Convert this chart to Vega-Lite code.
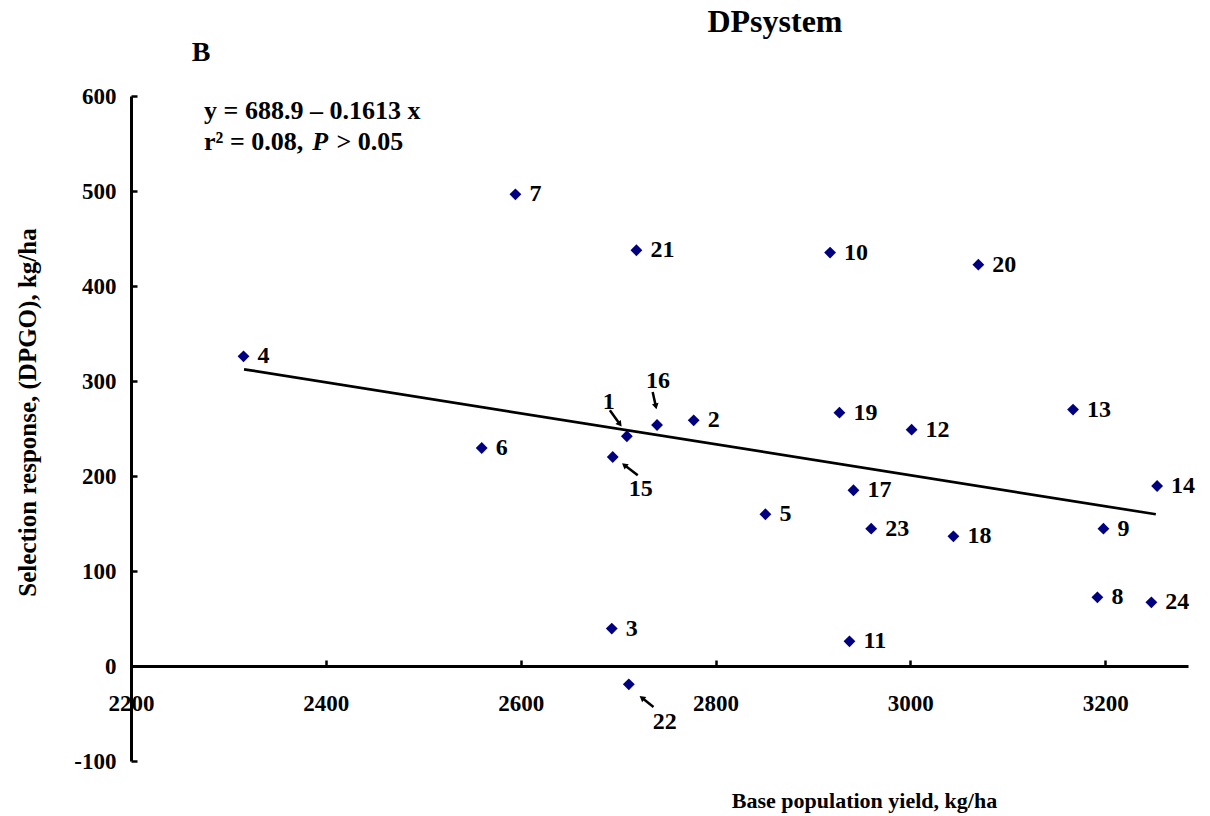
{
  "$schema": "https://vega.github.io/schema/vega-lite/v6.json",
  "width": 1057,
  "height": 665,
  "autosize": {"type": "none"},
  "padding": {"left": 131, "top": 96, "right": 22, "bottom": 55},
  "background": "white",
  "config": {"view": {"stroke": null}, "font": "Liberation Serif", "text": {"font": "Liberation Serif", "fontWeight": "bold", "color": "black"}},
  "datasets": {
    "lines": [
      {"id": "1", "yield": 2709, "response": 241.8},
      {"id": "2", "yield": 2777.6, "response": 258.6},
      {"id": "3", "yield": 2693.5, "response": 39.4},
      {"id": "4", "yield": 2315.5, "response": 326},
      {"id": "5", "yield": 2851.2, "response": 159.7},
      {"id": "6", "yield": 2560, "response": 229.5},
      {"id": "7", "yield": 2594.6, "response": 496.5},
      {"id": "8", "yield": 3192, "response": 72.3},
      {"id": "9", "yield": 3198.2, "response": 144.6},
      {"id": "10", "yield": 2917.6, "response": 435.2},
      {"id": "11", "yield": 2937.5, "response": 26},
      {"id": "12", "yield": 3001.3, "response": 248.8},
      {"id": "13", "yield": 3167, "response": 269.9},
      {"id": "14", "yield": 3253.3, "response": 189.5},
      {"id": "15", "yield": 2694.5, "response": 220},
      {"id": "16", "yield": 2740, "response": 253.7},
      {"id": "17", "yield": 2941.6, "response": 185},
      {"id": "18", "yield": 3044.2, "response": 136.5},
      {"id": "19", "yield": 2927.2, "response": 266.7},
      {"id": "20", "yield": 3069.8, "response": 422.5},
      {"id": "21", "yield": 2718.8, "response": 437.6},
      {"id": "22", "yield": 2711, "response": -19.3},
      {"id": "23", "yield": 2959.8, "response": 144.6},
      {"id": "24", "yield": 3247.4, "response": 67}
    ],
    "fit": [
      {"yield": 2316, "response": 312.3},
      {"yield": 3252, "response": 159.7}
    ]
  },
  "data": {"name": "lines"},
  "layer": [
    {
      "data": {"name": "fit"},
      "mark": {"type": "line", "color": "black", "strokeWidth": 2.7},
      "encoding": {
        "x": {"field": "yield", "type": "quantitative",
          "scale": {"domain": [2200, 3285], "nice": false, "zero": false},
          "axis": {"values": [2200, 2400, 2600, 2800, 3000, 3200], "labelExpr": "toString(datum.value)", "offset": -95, "grid": false,
            "tickSize": -6, "tickWidth": 2.5, "tickColor": "black", "domainColor": "black", "domainWidth": 3,
            "labelFont": "Liberation Serif", "labelFontWeight": "bold", "labelFontSize": 23, "labelColor": "black",
            "labelPadding": 32, "labelFlush": false, "labelOverlap": false,
            "title": "Base population yield, kg/ha", "titleFont": "Liberation Serif", "titleFontWeight": "bold", "titleFontSize": 22, "titleColor": "black",
            "titleX": 733, "titleY": 134, "titleBaseline": "middle", "titleAlign": "center"}},
        "y": {"field": "response", "type": "quantitative",
          "scale": {"domain": [-100, 600], "nice": false, "zero": false},
          "axis": {"values": [-100, 0, 100, 200, 300, 400, 500, 600], "labelExpr": "toString(datum.value)", "grid": false,
            "tickSize": -6, "tickWidth": 2.5, "tickColor": "black", "domainColor": "black", "domainWidth": 3,
            "labelFont": "Liberation Serif", "labelFontWeight": "bold", "labelFontSize": 23, "labelColor": "black",
            "labelPadding": 21, "labelFlush": false, "labelOverlap": false,
            "title": "Selection response, (DPGO), kg/ha", "titleFont": "Liberation Serif", "titleFontWeight": "bold", "titleFontSize": 25, "titleColor": "black",
            "titleX": -104, "titleY": 316, "titleAngle": -90, "titleBaseline": "middle", "titleAlign": "center"}}
      }
    },
    {
      "mark": {"type": "point", "shape": "diamond", "filled": true, "color": "#000080", "size": 140, "opacity": 1},
      "encoding": {
        "x": {"field": "yield", "type": "quantitative"},
        "y": {"field": "response", "type": "quantitative"}
      }
    },
    {
      "transform": [{"filter": {"not": {"field": "id", "oneOf": ["1", "15", "16", "22"]}}}],
      "mark": {"type": "text", "align": "left", "baseline": "middle", "dx": 14, "fontSize": 24, "fontWeight": "bold"},
      "encoding": {
        "x": {"field": "yield", "type": "quantitative"},
        "y": {"field": "response", "type": "quantitative"},
        "text": {"field": "id"}
      }
    },
    {
      "transform": [{"filter": {"field": "id", "equal": "1"}}],
      "mark": {"type": "text", "align": "center", "baseline": "middle", "dx": -18, "dy": -34, "fontSize": 24, "fontWeight": "bold"},
      "encoding": {"x": {"field": "yield", "type": "quantitative"}, "y": {"field": "response", "type": "quantitative"}, "text": {"field": "id"}}
    },
    {
      "transform": [{"filter": {"field": "id", "equal": "1"}}],
      "mark": {"type": "rule", "color": "black", "strokeWidth": 2.5, "xOffset": -17, "yOffset": -26, "x2Offset": -7, "y2Offset": -12},
      "encoding": {"x": {"field": "yield", "type": "quantitative"}, "y": {"field": "response", "type": "quantitative"}, "x2": {"field": "yield"}, "y2": {"field": "response"}}
    },
    {
      "transform": [{"filter": {"field": "id", "equal": "1"}}],
      "mark": {"type": "point", "shape": "triangle-up", "filled": true, "color": "black", "opacity": 1, "size": 45, "angle": 143, "xOffset": -7, "yOffset": -12},
      "encoding": {"x": {"field": "yield", "type": "quantitative"}, "y": {"field": "response", "type": "quantitative"}}
    },
    {
      "transform": [{"filter": {"field": "id", "equal": "16"}}],
      "mark": {"type": "text", "align": "center", "baseline": "middle", "dx": 1, "dy": -44, "fontSize": 24, "fontWeight": "bold"},
      "encoding": {"x": {"field": "yield", "type": "quantitative"}, "y": {"field": "response", "type": "quantitative"}, "text": {"field": "id"}}
    },
    {
      "transform": [{"filter": {"field": "id", "equal": "16"}}],
      "mark": {"type": "rule", "color": "black", "strokeWidth": 2.5, "xOffset": -4.4, "yOffset": -33, "x2Offset": -1.2, "y2Offset": -18.6},
      "encoding": {"x": {"field": "yield", "type": "quantitative"}, "y": {"field": "response", "type": "quantitative"}, "x2": {"field": "yield"}, "y2": {"field": "response"}}
    },
    {
      "transform": [{"filter": {"field": "id", "equal": "16"}}],
      "mark": {"type": "point", "shape": "triangle-up", "filled": true, "color": "black", "opacity": 1, "size": 45, "angle": 168, "xOffset": -1.2, "yOffset": -18.6},
      "encoding": {"x": {"field": "yield", "type": "quantitative"}, "y": {"field": "response", "type": "quantitative"}}
    },
    {
      "transform": [{"filter": {"field": "id", "equal": "15"}}],
      "mark": {"type": "text", "align": "center", "baseline": "middle", "dx": 28, "dy": 32, "fontSize": 24, "fontWeight": "bold"},
      "encoding": {"x": {"field": "yield", "type": "quantitative"}, "y": {"field": "response", "type": "quantitative"}, "text": {"field": "id"}}
    },
    {
      "transform": [{"filter": {"field": "id", "equal": "15"}}],
      "mark": {"type": "rule", "color": "black", "strokeWidth": 2.5, "xOffset": 25, "yOffset": 18.3, "x2Offset": 11.6, "y2Offset": 8},
      "encoding": {"x": {"field": "yield", "type": "quantitative"}, "y": {"field": "response", "type": "quantitative"}, "x2": {"field": "yield"}, "y2": {"field": "response"}}
    },
    {
      "transform": [{"filter": {"field": "id", "equal": "15"}}],
      "mark": {"type": "point", "shape": "triangle-up", "filled": true, "color": "black", "opacity": 1, "size": 45, "angle": 308, "xOffset": 11.6, "yOffset": 8},
      "encoding": {"x": {"field": "yield", "type": "quantitative"}, "y": {"field": "response", "type": "quantitative"}}
    },
    {
      "transform": [{"filter": {"field": "id", "equal": "22"}}],
      "mark": {"type": "text", "align": "center", "baseline": "middle", "dx": 36, "dy": 38, "fontSize": 24, "fontWeight": "bold"},
      "encoding": {"x": {"field": "yield", "type": "quantitative"}, "y": {"field": "response", "type": "quantitative"}, "text": {"field": "id"}}
    },
    {
      "transform": [{"filter": {"field": "id", "equal": "22"}}],
      "mark": {"type": "rule", "color": "black", "strokeWidth": 2.5, "xOffset": 24.7, "yOffset": 22.7, "x2Offset": 13.1, "y2Offset": 13.5},
      "encoding": {"x": {"field": "yield", "type": "quantitative"}, "y": {"field": "response", "type": "quantitative"}, "x2": {"field": "yield"}, "y2": {"field": "response"}}
    },
    {
      "transform": [{"filter": {"field": "id", "equal": "22"}}],
      "mark": {"type": "point", "shape": "triangle-up", "filled": true, "color": "black", "opacity": 1, "size": 45, "angle": 308, "xOffset": 13.1, "yOffset": 13.5},
      "encoding": {"x": {"field": "yield", "type": "quantitative"}, "y": {"field": "response", "type": "quantitative"}}
    },
    {
      "data": {"values": [{}]},
      "mark": {"type": "text", "text": "DPsystem", "align": "center", "baseline": "alphabetic", "fontSize": 32, "fontWeight": "bold"},
      "encoding": {"x": {"datum": 2861, "type": "quantitative"}, "y": {"datum": 667, "type": "quantitative"}}
    },
    {
      "data": {"values": [{}]},
      "mark": {"type": "text", "text": "B", "align": "center", "baseline": "middle", "fontSize": 28, "fontWeight": "bold"},
      "encoding": {"x": {"datum": 2272, "type": "quantitative"}, "y": {"datum": 645, "type": "quantitative"}}
    },
    {
      "data": {"values": [{}]},
      "mark": {"type": "text", "text": "y = 688.9 – 0.1613 x", "align": "left", "baseline": "middle", "fontSize": 26, "fontWeight": "bold"},
      "encoding": {"x": {"datum": 2275, "type": "quantitative"}, "y": {"datum": 584, "type": "quantitative"}}
    },
    {
      "data": {"values": [{}]},
      "mark": {"type": "text", "text": "r² = 0.08,", "align": "left", "baseline": "middle", "fontSize": 26, "fontWeight": "bold"},
      "encoding": {"x": {"datum": 2275, "type": "quantitative"}, "y": {"datum": 552, "type": "quantitative"}}
    },
    {
      "data": {"values": [{}]},
      "mark": {"type": "text", "text": "P", "align": "left", "baseline": "middle", "fontSize": 26, "fontWeight": "bold", "fontStyle": "italic"},
      "encoding": {"x": {"datum": 2386, "type": "quantitative"}, "y": {"datum": 552, "type": "quantitative"}}
    },
    {
      "data": {"values": [{}]},
      "mark": {"type": "text", "text": "> 0.05", "align": "left", "baseline": "middle", "fontSize": 26, "fontWeight": "bold"},
      "encoding": {"x": {"datum": 2411, "type": "quantitative"}, "y": {"datum": 552, "type": "quantitative"}}
    }
  ]
}
